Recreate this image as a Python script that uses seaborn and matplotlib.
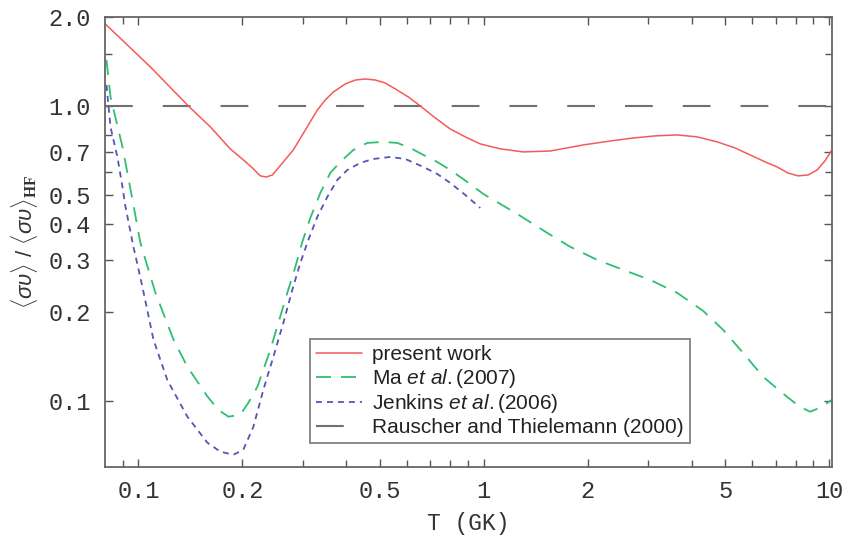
import numpy as np
import matplotlib
matplotlib.use("Agg")
import matplotlib.pyplot as plt
import seaborn as sns
import pandas as pd
from matplotlib.ticker import NullFormatter

# values (T in GK, rate ratio to Hauser-Feshbach)
present_T = [0.0802, 0.1083, 0.1395, 0.1616, 0.1846, 0.2013, 0.2138, 0.2254, 0.2346, 0.2442,
             0.2542, 0.2809, 0.3043, 0.3297, 0.3477, 0.3668, 0.3973, 0.4247, 0.4539, 0.4853,
             0.5187, 0.5545, 0.6047, 0.6549, 0.7239, 0.7998, 0.8841, 0.977, 1.116, 1.301,
             1.557, 1.941, 2.323, 2.708, 3.137, 3.632, 4.149, 4.741, 5.346, 5.906,
             6.528, 7.073, 7.609, 8.135, 8.696, 9.233, 9.737, 10.2]
present_ratio = [1.894, 1.355, 1.000, 0.849, 0.715, 0.657, 0.617, 0.580, 0.575, 0.584,
                 0.617, 0.710, 0.829, 0.969, 1.048, 1.115, 1.187, 1.224, 1.234, 1.224,
                 1.196, 1.142, 1.073, 1.000, 0.911, 0.836, 0.786, 0.744, 0.716, 0.699,
                 0.704, 0.738, 0.761, 0.779, 0.792, 0.798, 0.786, 0.756, 0.721, 0.683,
                 0.647, 0.622, 0.593, 0.580, 0.584, 0.607, 0.652, 0.710]

ma_T = [0.0808, 0.0830, 0.0899, 0.0967, 0.1013, 0.1120, 0.1263, 0.1386, 0.1584, 0.1704,
        0.1822, 0.1973, 0.2082, 0.2210, 0.2410, 0.2542, 0.2699, 0.2847, 0.2983, 0.3147,
        0.3364, 0.3594, 0.3843, 0.4192, 0.4601, 0.5117, 0.5618, 0.6128, 0.6682, 0.7333,
        0.7998, 0.8958, 0.9968, 1.116, 1.250, 1.527, 1.780, 2.131, 2.534, 3.033,
        3.632, 4.319, 4.934, 5.637, 6.442, 7.556, 8.243, 8.811, 9.419, 10.2]
ma_ratio = [1.431, 1.073, 0.727, 0.463, 0.344, 0.233, 0.162, 0.131, 0.104, 0.0937,
            0.0888, 0.0902, 0.0990, 0.1121, 0.1496, 0.1845, 0.2331, 0.2855, 0.3467, 0.4181,
            0.5078, 0.5934, 0.6465, 0.7098, 0.7498, 0.7556, 0.7498, 0.7210, 0.6830, 0.6465,
            0.6073, 0.5533, 0.5040, 0.4663, 0.4312, 0.3720, 0.3337, 0.3014, 0.2789, 0.2579,
            0.2331, 0.2026, 0.1748, 0.1461, 0.1212, 0.1037, 0.0959, 0.0923, 0.0952, 0.1013]

jenkins_T = [0.0808, 0.0830, 0.0869, 0.0899, 0.0917, 0.0967, 0.1027, 0.1105, 0.1213, 0.1386,
             0.1584, 0.1727, 0.1884, 0.2013, 0.2152, 0.2300, 0.2459, 0.2628, 0.2790, 0.2943,
             0.3105, 0.3296, 0.3524, 0.3767, 0.4027, 0.4390, 0.4787, 0.5363, 0.5928, 0.6682,
             0.7333, 0.7998, 0.8840, 0.977]
jenkins_ratio = [1.178, 0.849, 0.672, 0.532, 0.456, 0.334, 0.244, 0.162, 0.118, 0.0888,
                 0.0725, 0.0676, 0.0660, 0.0687, 0.0821, 0.1095, 0.1416, 0.1845, 0.2385, 0.2944,
                 0.3522, 0.4213, 0.4923, 0.5620, 0.6073, 0.6415, 0.6616, 0.6723, 0.6616, 0.6219,
                 0.5888, 0.5490, 0.5000, 0.4518]

hf_level = 1.0

x_major = [0.1, 0.2, 0.5, 1, 2, 5, 10]
x_major_labels = ["0.1", "0.2", "0.5", "1", "2", "5", "10"]
x_minor = [0.09, 0.3, 0.4, 0.6, 0.7, 0.8, 0.9, 3, 4, 6, 7, 8, 9]
y_major = [0.1, 0.2, 0.3, 0.4, 0.5, 0.7, 1.0, 2.0]
y_major_labels = ["0.1", "0.2", "0.3", "0.4", "0.5", "0.7", "1.0", "2.0"]
y_minor = [0.6, 0.8, 1.5]

sns.set_theme(style="ticks")
plt.rcParams["font.family"] = ["Liberation Sans", "DejaVu Sans"]
plt.rcParams["lines.scale_dashes"] = False
plt.rcParams["mathtext.fontset"] = "custom"
plt.rcParams["mathtext.rm"] = "Liberation Sans"
plt.rcParams["mathtext.it"] = "Liberation Sans:italic"
plt.rcParams["mathtext.bf"] = "Liberation Serif:bold"

fig = plt.figure(figsize=(8.46, 5.35), dpi=100)
ax = fig.add_axes([0.1241, 0.1271, 0.8593, 0.8411])
ax.set_xscale("log")
ax.set_yscale("log")

ax.axhline(hf_level, color="#707070", lw=1.5, ls=(0, (20, 21.6)),
           label="Rauscher and Thielemann (2000)", zorder=1)

df_p = pd.DataFrame({"T": present_T, "r": present_ratio})
df_m = pd.DataFrame({"T": ma_T, "r": ma_ratio})
df_j = pd.DataFrame({"T": jenkins_T, "r": jenkins_ratio})

sns.lineplot(data=df_p, x="T", y="r", ax=ax, color="#f45a5a", lw=1.1,
             estimator=None, sort=False, label="present work")
sns.lineplot(data=df_m, x="T", y="r", ax=ax, color="#2fbf6f", lw=1.3,
             estimator=None, sort=False, ls=(0, (10.8, 7.2)), label="Ma $et\\ al.$(2007)")
sns.lineplot(data=df_j, x="T", y="r", ax=ax, color="#5555b5", lw=1.3,
             estimator=None, sort=False, ls=(0, (4.3, 3.6)), label="Jenkins $et\\ al.$(2006)")

ax.set_xlim(0.08, 10.2)
ax.set_ylim(0.06, 2.0)

ax.set_xticks(x_major, x_major_labels)
ax.set_xticks(x_minor, minor=True)
ax.set_yticks(y_major, y_major_labels)
ax.set_yticks(y_minor, minor=True)
ax.xaxis.set_minor_formatter(NullFormatter())
ax.yaxis.set_minor_formatter(NullFormatter())

ax.tick_params(which="both", direction="in", top=True, right=True,
               color="#555555", width=1.0)
ax.tick_params(which="major", length=6)
ax.tick_params(which="minor", length=5)
ax.tick_params(axis="x", which="major", pad=9)
ax.tick_params(axis="y", which="major", pad=10)
for lab in ax.get_xticklabels() + ax.get_yticklabels():
    lab.set_family("Liberation Mono")
    lab.set_fontsize(17)
    lab.set_color("#333333")

for sp in ax.spines.values():
    sp.set_color("#666666")
    sp.set_linewidth(1.3)

ax.set_xlabel("T (GK)", family="Liberation Mono", fontsize=16.5, color="#333333",
              labelpad=7)
ax.set_ylabel(r"$\langle\sigma\upsilon\rangle$ / $\langle\sigma\upsilon\rangle_{\mathbf{HF}}$",
              fontsize=16, color="#333333", labelpad=6)

handles, labels = ax.get_legend_handles_labels()
order = [labels.index(l) for l in ["present work", "Ma $et\\ al.$(2007)",
                                   "Jenkins $et\\ al.$(2006)",
                                   "Rauscher and Thielemann (2000)"]]
leg = ax.legend([handles[i] for i in order], [labels[i] for i in order],
                loc="lower left", bbox_to_anchor=(0.282, 0.053), borderaxespad=0,
                fontsize=15, labelspacing=0.12, handlelength=2.2, handletextpad=0.5,
                borderpad=0.3, frameon=True, fancybox=False)
leg.get_frame().set_edgecolor("#555555")
leg.get_frame().set_linewidth(1.2)
for t in leg.get_texts():
    t.set_color("#222222")

fig.savefig("out.png", dpi=100)
